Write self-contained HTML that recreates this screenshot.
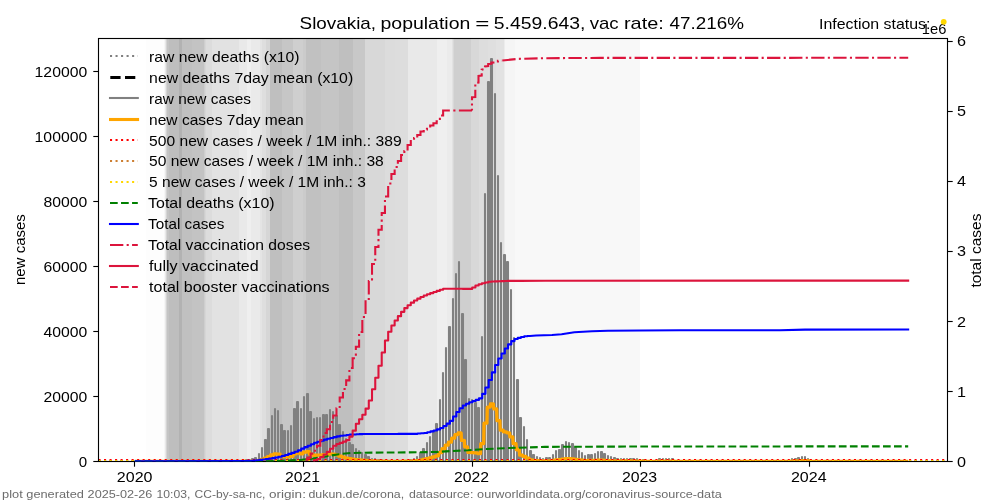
<!DOCTYPE html>
<html><head><meta charset="utf-8"><title>Slovakia</title>
<style>html,body{margin:0;padding:0;background:#fff;}body{width:1000px;height:500px;overflow:hidden;font-family:"Liberation Sans",sans-serif;}svg{display:block;will-change:transform;}</style>
</head><body>
<svg width="1000" height="500" viewBox="0 0 1000 500">
<defs><clipPath id="ax"><rect x="98.50" y="38.50" width="849.00" height="423.00"/></clipPath></defs>
<rect width="1000" height="500" fill="#fff"/>
<g clip-path="url(#ax)">
<g shape-rendering="crispEdges">
<rect x="146.0" y="38.5" width="17.6" height="423.0" fill="#fdfdfd"/>
<rect x="163.6" y="38.5" width="1.4" height="423.0" fill="#f6f6f6"/>
<rect x="165.0" y="38.5" width="1.0" height="423.0" fill="#e8e8e8"/>
<rect x="166.0" y="38.5" width="1.2" height="423.0" fill="#d4d4d4"/>
<rect x="167.2" y="38.5" width="1.6" height="423.0" fill="#c4c4c4"/>
<rect x="168.8" y="38.5" width="10.2" height="423.0" fill="#bebebe"/>
<rect x="179.0" y="38.5" width="2.6" height="423.0" fill="#b2b2b2"/>
<rect x="181.6" y="38.5" width="10.0" height="423.0" fill="#c0c0c0"/>
<rect x="191.6" y="38.5" width="12.8" height="423.0" fill="#c3c3c3"/>
<rect x="204.4" y="38.5" width="1.0" height="423.0" fill="#cecece"/>
<rect x="205.4" y="38.5" width="1.0" height="423.0" fill="#d6d6d6"/>
<rect x="206.4" y="38.5" width="6.0" height="423.0" fill="#dcdcdc"/>
<rect x="212.4" y="38.5" width="26.4" height="423.0" fill="#e2e2e2"/>
<rect x="238.8" y="38.5" width="8.4" height="423.0" fill="#e9e9e9"/>
<rect x="247.2" y="38.5" width="3.6" height="423.0" fill="#efefef"/>
<rect x="250.8" y="38.5" width="9.2" height="423.0" fill="#eaeaea"/>
<rect x="260.0" y="38.5" width="1.6" height="423.0" fill="#e4e4e4"/>
<rect x="261.6" y="38.5" width="4.8" height="423.0" fill="#dedede"/>
<rect x="266.4" y="38.5" width="3.6" height="423.0" fill="#d6d6d6"/>
<rect x="270.0" y="38.5" width="11.6" height="423.0" fill="#bfbfbf"/>
<rect x="281.6" y="38.5" width="11.2" height="423.0" fill="#c6c6c6"/>
<rect x="292.8" y="38.5" width="10.4" height="423.0" fill="#cfcfcf"/>
<rect x="303.2" y="38.5" width="2.8" height="423.0" fill="#cbcbcb"/>
<rect x="306.0" y="38.5" width="14.8" height="423.0" fill="#c1c1c1"/>
<rect x="320.8" y="38.5" width="18.0" height="423.0" fill="#c5c5c5"/>
<rect x="338.8" y="38.5" width="14.0" height="423.0" fill="#bfbfbf"/>
<rect x="352.8" y="38.5" width="12.0" height="423.0" fill="#c8c8c8"/>
<rect x="364.8" y="38.5" width="20.0" height="423.0" fill="#d8d8d8"/>
<rect x="384.8" y="38.5" width="10.4" height="423.0" fill="#dcdcdc"/>
<rect x="395.2" y="38.5" width="12.4" height="423.0" fill="#dddddd"/>
<rect x="407.6" y="38.5" width="29.6" height="423.0" fill="#e9e9e9"/>
<rect x="437.2" y="38.5" width="10.0" height="423.0" fill="#efefef"/>
<rect x="447.2" y="38.5" width="4.4" height="423.0" fill="#ebebeb"/>
<rect x="451.6" y="38.5" width="1.2" height="423.0" fill="#e2e2e2"/>
<rect x="452.8" y="38.5" width="1.2" height="423.0" fill="#d8d8d8"/>
<rect x="454.0" y="38.5" width="17.2" height="423.0" fill="#cfcfcf"/>
<rect x="471.2" y="38.5" width="7.6" height="423.0" fill="#d8d8d8"/>
<rect x="478.8" y="38.5" width="8.8" height="423.0" fill="#dddddd"/>
<rect x="487.6" y="38.5" width="8.4" height="423.0" fill="#dfdfdf"/>
<rect x="496.0" y="38.5" width="7.6" height="423.0" fill="#e2e2e2"/>
<rect x="503.6" y="38.5" width="1.6" height="423.0" fill="#ececec"/>
<rect x="505.2" y="38.5" width="10.0" height="423.0" fill="#f5f5f5"/>
<rect x="515.2" y="38.5" width="125.0" height="423.0" fill="#f8f8f8"/>
</g>
<path d="M134.80 461.50 L239.00 461.50 L239.00 461.00 L240.00 461.00 L240.00 461.50 L242.00 461.50 L242.00 461.00 L243.00 461.00 L243.00 461.50 L246.00 461.50 L246.00 460.00 L246.00 461.50 L249.00 461.50 L249.00 460.00 L249.00 461.50 L252.00 461.50 L252.00 459.00 L253.00 459.00 L253.00 461.50 L255.00 461.50 L255.00 458.00 L256.00 458.00 L256.00 461.50 L259.00 461.50 L259.00 454.00 L259.00 461.50 L262.00 461.50 L262.00 448.00 L262.00 461.50 L265.00 461.50 L265.00 440.00 L266.00 440.00 L266.00 461.50 L268.00 461.50 L268.00 429.00 L269.00 429.00 L269.00 461.50 L272.00 461.50 L272.00 416.00 L272.00 461.50 L275.00 461.50 L275.00 409.00 L275.00 461.50 L278.00 461.50 L278.00 411.00 L278.00 461.50 L281.00 461.50 L281.00 425.00 L282.00 425.00 L282.00 461.50 L284.00 461.50 L284.00 431.00 L285.00 431.00 L285.00 461.50 L288.00 461.50 L288.00 431.00 L288.00 461.50 L291.00 461.50 L291.00 426.00 L291.00 461.50 L294.00 461.50 L294.00 409.00 L295.00 409.00 L295.00 461.50 L297.00 461.50 L297.00 402.00 L298.00 402.00 L298.00 461.50 L301.00 461.50 L301.00 409.00 L301.00 461.50 L304.00 461.50 L304.00 397.00 L304.00 461.50 L307.00 461.50 L307.00 394.00 L308.00 394.00 L308.00 461.50 L310.00 461.50 L310.00 412.00 L311.00 412.00 L311.00 461.50 L314.00 461.50 L314.00 419.00 L314.00 461.50 L317.00 461.50 L317.00 418.00 L317.00 461.50 L320.00 461.50 L320.00 418.00 L320.00 461.50 L323.00 461.50 L323.00 415.00 L324.00 415.00 L324.00 461.50 L326.00 461.50 L326.00 415.00 L327.00 415.00 L327.00 461.50 L330.00 461.50 L330.00 410.00 L330.00 461.50 L333.00 461.50 L333.00 412.00 L333.00 461.50 L336.00 461.50 L336.00 416.00 L337.00 416.00 L337.00 461.50 L339.00 461.50 L339.00 425.00 L340.00 425.00 L340.00 461.50 L343.00 461.50 L343.00 432.00 L343.00 461.50 L346.00 461.50 L346.00 439.00 L346.00 461.50 L349.00 461.50 L349.00 443.00 L350.00 443.00 L350.00 461.50 L352.00 461.50 L352.00 445.00 L353.00 445.00 L353.00 461.50 L356.00 461.50 L356.00 449.00 L356.00 461.50 L359.00 461.50 L359.00 451.00 L359.00 461.50 L362.00 461.50 L362.00 453.00 L362.00 461.50 L365.00 461.50 L365.00 455.00 L366.00 455.00 L366.00 461.50 L368.00 461.50 L368.00 457.00 L369.00 457.00 L369.00 461.50 L372.00 461.50 L372.00 459.00 L372.00 461.50 L375.00 461.50 L375.00 459.00 L375.00 461.50 L378.00 461.50 L378.00 460.00 L379.00 460.00 L379.00 461.50 L381.00 461.50 L381.00 460.00 L382.00 460.00 L382.00 461.50 L385.00 461.50 L385.00 461.00 L385.00 461.50 L388.00 461.50 L388.00 461.00 L388.00 461.50 L391.00 461.50 L391.00 461.00 L392.00 461.00 L392.00 461.50 L394.00 461.50 L394.00 461.00 L395.00 461.00 L395.00 461.50 L398.00 461.50 L398.00 461.00 L398.00 461.50 L401.00 461.50 L401.00 461.00 L401.00 461.50 L404.00 461.50 L404.00 461.00 L404.00 461.50 L407.00 461.50 L407.00 461.00 L408.00 461.00 L408.00 461.50 L410.00 461.50 L410.00 460.00 L411.00 460.00 L411.00 461.50 L414.00 461.50 L414.00 459.00 L414.00 461.50 L417.00 461.50 L417.00 457.00 L417.00 461.50 L420.00 461.50 L420.00 453.00 L421.00 453.00 L421.00 461.50 L423.00 461.50 L423.00 449.00 L424.00 449.00 L424.00 461.50 L427.00 461.50 L427.00 443.00 L427.00 461.50 L430.00 461.50 L430.00 437.00 L430.00 461.50 L433.00 461.50 L433.00 431.00 L434.00 431.00 L434.00 461.50 L436.00 461.50 L436.00 424.00 L437.00 424.00 L437.00 461.50 L440.00 461.50 L440.00 400.00 L440.00 461.50 L443.00 461.50 L443.00 373.00 L443.00 461.50 L446.00 461.50 L446.00 348.00 L446.00 461.50 L449.00 461.50 L449.00 327.00 L450.00 327.00 L450.00 461.50 L453.00 461.50 L453.00 299.00 L453.00 461.50 L456.00 461.50 L456.00 274.00 L456.00 461.50 L459.00 461.50 L459.00 262.00 L459.00 461.50 L462.00 461.50 L462.00 314.00 L463.00 314.00 L463.00 461.50 L465.00 461.50 L465.00 360.00 L466.00 360.00 L466.00 461.50 L469.00 461.50 L469.00 399.00 L469.00 461.50 L472.00 461.50 L472.00 400.00 L472.00 461.50 L475.00 461.50 L475.00 403.00 L476.00 403.00 L476.00 461.50 L478.00 461.50 L478.00 408.00 L479.00 408.00 L479.00 461.50 L482.00 461.50 L482.00 337.00 L482.00 461.50 L485.00 461.50 L485.00 194.00 L485.00 461.50 L488.00 461.50 L488.00 82.00 L489.00 82.00 L489.00 461.50 L491.00 461.50 L491.00 59.00 L492.00 59.00 L492.00 461.50 L495.00 461.50 L495.00 94.00 L495.00 461.50 L498.00 461.50 L498.00 176.00 L498.00 461.50 L501.00 461.50 L501.00 243.00 L501.00 461.50 L504.00 461.50 L504.00 255.00 L505.00 255.00 L505.00 461.50 L507.00 461.50 L507.00 262.00 L508.00 262.00 L508.00 461.50 L511.00 461.50 L511.00 290.00 L511.00 461.50 L514.00 461.50 L514.00 338.00 L514.00 461.50 L517.00 461.50 L517.00 380.00 L518.00 380.00 L518.00 461.50 L520.00 461.50 L520.00 418.00 L521.00 418.00 L521.00 461.50 L524.00 461.50 L524.00 427.00 L524.00 461.50 L527.00 461.50 L527.00 440.00 L527.00 461.50 L530.00 461.50 L530.00 451.00 L531.00 451.00 L531.00 461.50 L533.00 461.50 L533.00 455.00 L534.00 455.00 L534.00 461.50 L537.00 461.50 L537.00 457.00 L537.00 461.50 L540.00 461.50 L540.00 458.00 L540.00 461.50 L543.00 461.50 L543.00 459.00 L543.00 461.50 L546.00 461.50 L546.00 458.00 L547.00 458.00 L547.00 461.50 L549.00 461.50 L549.00 458.00 L550.00 458.00 L550.00 461.50 L553.00 461.50 L553.00 455.00 L553.00 461.50 L556.00 461.50 L556.00 451.00 L556.00 461.50 L559.00 461.50 L559.00 450.00 L560.00 450.00 L560.00 461.50 L562.00 461.50 L562.00 445.00 L563.00 445.00 L563.00 461.50 L566.00 461.50 L566.00 442.00 L566.00 461.50 L569.00 461.50 L569.00 443.00 L569.00 461.50 L572.00 461.50 L572.00 444.00 L573.00 444.00 L573.00 461.50 L575.00 461.50 L575.00 448.00 L576.00 448.00 L576.00 461.50 L579.00 461.50 L579.00 451.00 L579.00 461.50 L582.00 461.50 L582.00 453.00 L582.00 461.50 L585.00 461.50 L585.00 456.00 L585.00 461.50 L588.00 461.50 L588.00 455.00 L589.00 455.00 L589.00 461.50 L591.00 461.50 L591.00 455.00 L592.00 455.00 L592.00 461.50 L595.00 461.50 L595.00 454.00 L595.00 461.50 L598.00 461.50 L598.00 452.00 L598.00 461.50 L601.00 461.50 L601.00 452.00 L602.00 452.00 L602.00 461.50 L604.00 461.50 L604.00 454.00 L605.00 454.00 L605.00 461.50 L608.00 461.50 L608.00 456.00 L608.00 461.50 L611.00 461.50 L611.00 457.00 L611.00 461.50 L614.00 461.50 L614.00 458.00 L615.00 458.00 L615.00 461.50 L617.00 461.50 L617.00 459.00 L618.00 459.00 L618.00 461.50 L621.00 461.50 L621.00 459.00 L621.00 461.50 L624.00 461.50 L624.00 459.00 L624.00 461.50 L627.00 461.50 L627.00 459.00 L627.00 461.50 L630.00 461.50 L630.00 459.00 L631.00 459.00 L631.00 461.50 L633.00 461.50 L633.00 459.00 L634.00 459.00 L634.00 461.50 L637.00 461.50 L637.00 459.00 L637.00 461.50 L640.00 461.50 L640.00 460.00 L640.00 461.50 L643.00 461.50 L643.00 460.00 L644.00 460.00 L644.00 461.50 L646.00 461.50 L646.00 461.00 L647.00 461.00 L647.00 461.50 L650.00 461.50 L650.00 461.00 L650.00 461.50 L653.00 461.50 L653.00 461.00 L653.00 461.50 L656.00 461.50 L656.00 461.00 L657.00 461.00 L657.00 461.50 L659.00 461.50 L659.00 459.00 L660.00 459.00 L660.00 461.50 L663.00 461.50 L663.00 459.00 L663.00 461.50 L666.00 461.50 L666.00 459.00 L666.00 461.50 L669.00 461.50 L669.00 459.00 L669.00 461.50 L672.00 461.50 L672.00 459.00 L673.00 459.00 L673.00 461.50 L675.00 461.50 L675.00 461.00 L676.00 461.00 L676.00 461.50 L679.00 461.50 L679.00 461.00 L679.00 461.50 L682.00 461.50 L682.00 461.00 L682.00 461.50 L685.00 461.50 L685.00 461.00 L686.00 461.00 L686.00 461.50 L688.00 461.50 L688.00 461.00 L689.00 461.00 L689.00 461.50 L692.00 461.50 L692.00 461.00 L692.00 461.50 L695.00 461.50 L695.00 461.00 L695.00 461.50 L698.00 461.50 L698.00 461.00 L699.00 461.00 L699.00 461.50 L701.00 461.50 L701.00 461.00 L702.00 461.00 L702.00 461.50 L705.00 461.50 L705.00 461.00 L705.00 461.50 L708.00 461.50 L708.00 461.00 L708.00 461.50 L711.00 461.50 L711.00 461.00 L711.00 461.50 L714.00 461.50 L714.00 461.00 L715.00 461.00 L715.00 461.50 L717.00 461.50 L717.00 461.00 L718.00 461.00 L718.00 461.50 L721.00 461.50 L721.00 461.00 L721.00 461.50 L724.00 461.50 L724.00 461.00 L724.00 461.50 L727.00 461.50 L727.00 461.00 L728.00 461.00 L728.00 461.50 L730.00 461.50 L730.00 461.00 L731.00 461.00 L731.00 461.50 L734.00 461.50 L734.00 461.00 L734.00 461.50 L737.00 461.50 L737.00 461.00 L737.00 461.50 L740.00 461.50 L740.00 461.00 L741.00 461.00 L741.00 461.50 L743.00 461.50 L743.00 461.00 L744.00 461.00 L744.00 461.50 L747.00 461.50 L747.00 461.00 L747.00 461.50 L750.00 461.50 L750.00 461.00 L750.00 461.50 L753.00 461.50 L753.00 461.00 L754.00 461.00 L754.00 461.50 L756.00 461.50 L756.00 461.00 L757.00 461.00 L757.00 461.50 L760.00 461.50 L760.00 461.00 L760.00 461.50 L763.00 461.50 L763.00 461.00 L763.00 461.50 L766.00 461.50 L766.00 461.00 L766.00 461.50 L769.00 461.50 L769.00 461.00 L770.00 461.00 L770.00 461.50 L772.00 461.50 L772.00 461.00 L773.00 461.00 L773.00 461.50 L776.00 461.50 L776.00 461.00 L776.00 461.50 L779.00 461.50 L779.00 461.00 L779.00 461.50 L782.00 461.50 L782.00 461.00 L783.00 461.00 L783.00 461.50 L785.00 461.50 L785.00 461.00 L786.00 461.00 L786.00 461.50 L789.00 461.50 L789.00 461.00 L789.00 461.50 L792.00 461.50 L792.00 459.00 L792.00 461.50 L795.00 461.50 L795.00 459.00 L796.00 459.00 L796.00 461.50 L798.00 461.50 L798.00 458.00 L799.00 458.00 L799.00 461.50 L802.00 461.50 L802.00 457.00 L802.00 461.50 L805.00 461.50 L805.00 457.00 L805.00 461.50 L808.00 461.50 L808.00 459.00 L808.00 461.50 L811.00 461.50 L811.00 461.00 L812.00 461.00 L812.00 461.50 L814.00 461.50 L814.00 461.00 L815.00 461.00 L815.00 461.50 L818.00 461.50 L818.00 461.00 L818.00 461.50 L821.00 461.50 L821.00 461.00 L821.00 461.50 L824.00 461.50 L824.00 461.00 L825.00 461.00 L825.00 461.50 L827.00 461.50 L827.00 461.00 L828.00 461.00 L828.00 461.50 L831.00 461.50 L831.00 461.00 L831.00 461.50 L834.00 461.50 L834.00 461.00 L834.00 461.50 L837.00 461.50 L837.00 461.00 L838.00 461.00 L838.00 461.50 L840.00 461.50 L840.00 461.00 L841.00 461.00 L841.00 461.50 L844.00 461.50 L844.00 461.00 L844.00 461.50 L847.00 461.50 L847.00 461.00 L847.00 461.50 L850.00 461.50 L850.00 461.00 L850.00 461.50 L853.00 461.50 L853.00 461.00 L854.00 461.00 L854.00 461.50 L856.00 461.50 L856.00 461.00 L857.00 461.00 L857.00 461.50 L860.00 461.50 L860.00 461.00 L860.00 461.50 L863.00 461.50 L863.00 461.00 L863.00 461.50 L866.00 461.50 L866.00 461.00 L867.00 461.00 L867.00 461.50 L869.00 461.50 L869.00 461.00 L870.00 461.00 L870.00 461.50 L873.00 461.50 L873.00 461.00 L873.00 461.50 L876.00 461.50 L876.00 461.00 L876.00 461.50 L879.00 461.50 L879.00 461.00 L880.00 461.00 L880.00 461.50 L882.00 461.50 L882.00 461.00 L883.00 461.00 L883.00 461.50 L886.00 461.50 L886.00 461.00 L886.00 461.50 L889.00 461.50 L889.00 461.00 L889.00 461.50 L892.00 461.50 L892.00 461.00 L892.00 461.50 L895.00 461.50 L895.00 461.00 L896.00 461.00 L896.00 461.50 L898.00 461.50 L898.00 461.00 L899.00 461.00 L899.00 461.50 L902.00 461.50 L902.00 461.00 L902.00 461.50 L905.00 461.50 L905.00 461.00 L905.00 461.50 L908.20 461.50" fill="none" stroke="#808080" stroke-width="2.08" stroke-linejoin="round"/>
<path d="M134.80 461.50 L238.45 461.31 L241.35 461.31 L241.68 461.26 L244.58 461.26 L244.91 461.17 L247.81 461.17 L248.14 461.07 L251.04 461.07 L251.37 460.97 L254.27 460.97 L254.60 460.83 L257.50 460.83 L257.84 460.29 L260.74 460.29 L261.07 459.49 L263.97 459.49 L264.30 458.27 L267.20 458.27 L267.53 456.77 L270.43 456.77 L270.76 454.89 L273.66 454.89 L273.99 453.89 L276.89 453.89 L277.23 454.17 L280.13 454.17 L280.46 456.17 L283.36 456.17 L283.69 456.97 L286.59 456.97 L286.92 456.97 L289.82 456.97 L290.15 456.24 L293.05 456.24 L293.38 453.81 L296.28 453.81 L296.62 452.87 L299.52 452.87 L299.85 453.86 L302.75 453.86 L303.08 452.11 L305.98 452.11 L306.31 451.74 L309.21 451.74 L309.54 454.34 L312.44 454.34 L312.77 455.24 L315.67 455.24 L316.00 455.14 L318.90 455.14 L319.24 455.14 L322.14 455.14 L322.47 454.71 L325.37 454.71 L325.70 454.64 L328.60 454.64 L328.93 453.93 L331.83 453.93 L332.16 454.23 L335.06 454.23 L335.39 454.83 L338.29 454.83 L338.63 456.10 L341.53 456.10 L341.86 457.14 L344.76 457.14 L345.09 458.10 L347.99 458.10 L348.32 458.71 L351.22 458.71 L351.55 459.03 L354.45 459.03 L354.78 459.57 L357.68 459.57 L358.02 459.87 L360.92 459.87 L361.25 460.17 L364.15 460.17 L364.48 460.46 L367.38 460.46 L367.71 460.73 L370.61 460.73 L370.94 460.93 L373.84 460.93 L374.17 461.01 L377.07 461.01 L377.41 461.09 L380.31 461.09 L380.64 461.17 L383.54 461.17 L383.87 461.23 L386.77 461.23 L387.10 461.29 L390.00 461.29 L390.33 461.33 L393.23 461.33 L393.56 461.34 L396.46 461.34 L396.79 461.34 L399.69 461.34 L400.03 461.31 L402.93 461.31 L403.26 461.27 L406.16 461.27 L406.49 461.21 L409.39 461.21 L409.72 461.11 L412.62 461.11 L412.95 460.97 L415.85 460.97 L416.18 460.71 L419.08 460.71 L419.42 460.20 L422.32 460.20 L422.65 459.51 L425.55 459.51 L425.88 458.76 L428.78 458.76 L429.11 457.91 L432.01 457.91 L432.34 456.96 L435.24 456.96 L435.57 455.94 L438.47 455.94 L438.81 452.54 L441.71 452.54 L442.04 448.74 L444.94 448.74 L445.27 445.20 L448.17 445.20 L448.50 442.14 L451.40 442.14 L451.73 438.14 L454.63 438.14 L454.96 434.54 L457.86 434.54 L458.20 432.81 L461.10 432.81 L461.43 440.34 L464.33 440.34 L464.66 446.86 L467.56 446.86 L467.89 452.36 L470.79 452.36 L471.12 452.57 L474.02 452.57 L474.35 452.97 L477.25 452.97 L477.58 453.66 L480.48 453.66 L480.82 443.61 L483.72 443.61 L484.05 423.13 L486.95 423.13 L487.28 407.20 L490.18 407.20 L490.51 403.83 L493.41 403.83 L493.74 408.79 L496.64 408.79 L496.97 420.63 L499.87 420.63 L500.21 430.14 L503.11 430.14 L503.44 431.83 L506.34 431.83 L506.67 432.79 L509.57 432.79 L509.90 436.83 L512.80 436.83 L513.13 443.64 L516.03 443.64 L516.36 449.74 L519.26 449.74 L519.60 455.17 L522.50 455.17 L522.83 456.40 L525.73 456.40 L526.06 458.21 L528.96 458.21 L529.29 459.79 L532.19 459.79 L532.52 460.47 L535.42 460.47 L535.75 460.77 L538.65 460.77 L538.99 460.90 L541.89 460.90 L542.22 461.00 L545.12 461.00 L545.45 460.91 L548.35 460.91 L548.68 460.83 L551.58 460.83 L551.91 460.46 L554.81 460.46 L555.14 459.91 L558.04 459.91 L558.37 459.69 L561.27 459.69 L561.61 459.03 L564.51 459.03 L564.84 458.60 L567.74 458.60 L568.07 458.71 L570.97 458.71 L571.30 458.83 L574.20 458.83 L574.53 459.43 L577.43 459.43 L577.76 459.83 L580.66 459.83 L581.00 460.14 L583.90 460.14 L584.23 460.60 L587.13 460.60 L587.46 460.49 L590.36 460.49 L590.69 460.49 L593.59 460.49 L593.92 460.29 L596.82 460.29 L597.15 460.03 L600.05 460.03 L600.39 460.06 L603.29 460.06 L603.62 460.31 L606.52 460.31 L606.85 460.57 L609.75 460.57 L610.08 460.77 L612.98 460.77 L613.31 460.89 L616.21 460.89 L616.54 460.94 L619.44 460.94 L619.78 460.99 L622.68 460.99 L623.01 461.01 L625.91 461.01 L626.24 461.00 L629.14 461.00 L629.47 461.01 L632.37 461.01 L632.70 461.03 L635.60 461.03 L635.93 461.04 L638.83 461.04 L639.16 461.09 L642.06 461.09 L642.40 461.14 L645.30 461.14 L645.63 461.29 L648.53 461.29 L648.86 461.29 L651.76 461.29 L652.09 461.29 L654.99 461.29 L655.32 461.29 L658.22 461.29 L658.55 461.06 L661.45 461.06 L661.79 461.06 L664.69 461.06 L665.02 461.06 L667.92 461.06 L668.25 461.06 L671.15 461.06 L671.48 461.06 L674.38 461.06 L674.71 461.29 L677.61 461.29 L677.94 461.29 L680.84 461.29 L681.18 461.29 L684.08 461.29 L684.41 461.29 L687.31 461.29 L687.64 461.29 L690.54 461.29 L690.87 461.29 L693.77 461.29 L694.10 461.29 L697.00 461.29 L697.33 461.29 L700.23 461.29 L700.57 461.29 L703.47 461.29 L703.80 461.29 L706.70 461.29 L707.03 461.29 L709.93 461.29 L710.26 461.29 L713.16 461.29 L713.49 461.29 L716.39 461.29 L716.72 461.29 L719.62 461.29 L719.95 461.29 L722.85 461.29 L723.19 461.29 L726.09 461.29 L726.42 461.29 L729.32 461.29 L729.65 461.29 L732.55 461.29 L732.88 461.29 L735.78 461.29 L736.11 461.29 L739.01 461.29 L739.34 461.29 L742.24 461.29 L742.58 461.29 L745.48 461.29 L745.81 461.29 L748.71 461.29 L749.04 461.29 L751.94 461.29 L752.27 461.29 L755.17 461.29 L755.50 461.29 L758.40 461.29 L758.73 461.29 L761.63 461.29 L761.97 461.29 L764.87 461.29 L765.20 461.29 L768.10 461.29 L768.43 461.29 L771.33 461.29 L771.66 461.29 L774.56 461.29 L774.89 461.29 L777.79 461.29 L778.12 461.29 L781.02 461.29 L781.36 461.29 L784.26 461.29 L784.59 461.29 L787.49 461.29 L787.82 461.29 L790.72 461.29 L791.05 461.03 L793.95 461.03 L794.28 460.97 L797.18 460.97 L797.51 460.86 L800.41 460.86 L800.74 460.74 L803.64 460.74 L803.98 460.74 L806.88 460.74 L807.21 461.00 L810.11 461.00 L810.44 461.34 L813.34 461.34 L813.67 461.34 L816.57 461.34 L816.90 461.34 L819.80 461.34 L820.13 461.34 L823.03 461.34 L823.37 461.34 L826.27 461.34 L826.60 461.34 L829.50 461.34 L829.83 461.34 L832.73 461.34 L833.06 461.34 L835.96 461.34 L836.29 461.34 L839.19 461.34 L839.52 461.34 L842.42 461.34 L842.76 461.34 L845.66 461.34 L845.99 461.34 L848.89 461.34 L849.22 461.34 L852.12 461.34 L852.45 461.34 L855.35 461.34 L855.68 461.34 L858.58 461.34 L858.91 461.34 L861.81 461.34 L862.15 461.34 L865.05 461.34 L865.38 461.34 L868.28 461.34 L868.61 461.34 L871.51 461.34 L871.84 461.34 L874.74 461.34 L875.07 461.34 L877.97 461.34 L878.30 461.34 L881.20 461.34 L881.53 461.34 L884.43 461.34 L884.77 461.34 L887.67 461.34 L888.00 461.34 L890.90 461.34 L891.23 461.34 L894.13 461.34 L894.46 461.34 L897.36 461.34 L897.69 461.34 L900.59 461.34 L900.92 461.34 L903.82 461.34 L904.16 461.34 L907.06 461.34 L908.20 461.40" fill="none" stroke="#ffa500" stroke-width="3.3" stroke-linejoin="round"/>
<path d="M98.50 460.00 H947.50" stroke="#ff0000" stroke-width="2.08" stroke-dasharray="2.08 3.434" fill="none"/>
<path d="M98.50 461.00 H947.50" stroke="#cd7f32" stroke-width="2.08" stroke-dasharray="2.08 3.434" fill="none"/>
<path d="M98.50 461.00 H947.50" stroke="#ffd700" stroke-width="2.08" stroke-dasharray="2.08 3.434" fill="none"/>
</g>
<g stroke="#000" stroke-width="1.11" fill="none">
<rect x="98.50" y="38.50" width="849.00" height="423.00"/>
<path d="M134.50 461.50 v5.2"/>
<path d="M303.50 461.50 v5.2"/>
<path d="M472.50 461.50 v5.2"/>
<path d="M640.50 461.50 v5.2"/>
<path d="M809.50 461.50 v5.2"/>
<path d="M98.50 461.50 h-5.2"/>
<path d="M98.50 396.50 h-5.2"/>
<path d="M98.50 331.50 h-5.2"/>
<path d="M98.50 266.50 h-5.2"/>
<path d="M98.50 201.50 h-5.2"/>
<path d="M98.50 136.50 h-5.2"/>
<path d="M98.50 71.50 h-5.2"/>
<path d="M947.50 461.50 h5.2"/>
<path d="M947.50 391.50 h5.2"/>
<path d="M947.50 321.50 h5.2"/>
<path d="M947.50 251.50 h5.2"/>
<path d="M947.50 181.50 h5.2"/>
<path d="M947.50 111.50 h5.2"/>
<path d="M947.50 41.50 h5.2"/>
</g>
<g clip-path="url(#ax)" fill="none" stroke-width="2.08">
<path d="M134.80 461.30 L265.00 461.20 L285.00 460.80 L301.70 459.80 L313.60 458.50 L325.50 456.40 L339.00 454.20 L351.00 453.00 L364.50 452.70 L405.00 452.40 L436.50 452.00 L452.00 451.00 L468.00 450.30 L485.00 449.10 L509.00 448.00 L545.00 446.90 L610.00 446.60 L800.00 446.40 L908.20 446.40" stroke="#008000" stroke-dasharray="7.7 3.33" stroke-dashoffset="1.2"/>
<path d="M134.80 461.30 L245.00 461.00 L246.31 461.00 L246.31 460.88 L249.54 460.88 L249.54 460.75 L252.77 460.75 L252.77 460.62 L256.00 460.62 L256.00 460.28 L259.24 460.28 L259.24 459.88 L262.47 459.88 L262.47 459.49 L265.70 459.49 L265.70 459.03 L268.93 459.03 L268.93 458.56 L272.16 458.56 L272.16 458.10 L275.39 458.10 L275.39 457.51 L278.63 457.51 L278.63 456.68 L281.86 456.68 L281.86 455.85 L285.09 455.85 L285.09 454.97 L288.32 454.97 L288.32 453.91 L291.55 453.91 L291.55 452.85 L294.78 452.85 L294.78 451.79 L298.02 451.79 L298.02 450.34 L301.25 450.34 L301.25 448.59 L304.48 448.59 L304.48 447.14 L307.71 447.14 L307.71 445.70 L310.94 445.70 L310.94 444.17 L314.17 444.17 L314.17 442.75 L317.40 442.75 L317.40 441.71 L320.64 441.71 L320.64 440.68 L323.87 440.68 L323.87 439.65 L327.10 439.65 L327.10 438.71 L330.33 438.71 L330.33 437.93 L333.56 437.93 L333.56 437.16 L336.79 437.16 L336.79 436.38 L340.03 436.38 L340.03 435.80 L343.26 435.80 L343.26 435.42 L346.49 435.42 L346.49 435.03 L349.72 435.03 L349.72 434.64 L352.95 434.64 L352.95 434.42 L356.18 434.42 L356.18 434.29 L359.42 434.29 L359.42 434.16 L362.65 434.16 L362.65 434.03 L365.88 434.03 L365.88 433.99 L369.11 433.99 L369.11 433.99 L372.34 433.99 L372.34 433.98 L375.57 433.98 L375.57 433.97 L378.81 433.97 L378.81 433.96 L382.04 433.96 L382.04 433.95 L385.27 433.95 L385.27 433.95 L388.50 433.95 L388.50 433.94 L391.73 433.94 L391.73 433.93 L394.96 433.93 L394.96 433.92 L398.19 433.92 L398.19 433.91 L401.43 433.91 L401.43 433.90 L404.66 433.90 L404.66 433.90 L407.89 433.90 L407.89 433.90 L411.12 433.90 L411.12 433.90 L414.35 433.90 L414.35 433.86 L417.58 433.86 L417.58 433.55 L420.82 433.55 L420.82 433.24 L424.05 433.24 L424.05 432.93 L427.28 432.93 L427.28 432.18 L430.51 432.18 L430.51 431.38 L433.74 431.38 L433.74 430.58 L436.97 430.58 L436.97 429.40 L440.21 429.40 L440.21 428.02 L443.44 428.02 L443.44 426.04 L446.67 426.04 L446.67 423.66 L449.90 423.66 L449.90 420.87 L453.13 420.87 L453.13 416.49 L456.36 416.49 L456.36 412.04 L459.60 412.04 L459.60 408.27 L462.83 408.27 L462.83 405.45 L466.06 405.45 L466.06 403.68 L469.29 403.68 L469.29 402.19 L472.52 402.19 L472.52 400.95 L475.75 400.95 L475.75 399.88 L478.98 399.88 L478.98 398.35 L482.22 398.35 L482.22 393.85 L485.45 393.85 L485.45 387.48 L488.68 387.48 L488.68 379.94 L491.91 379.94 L491.91 372.40 L495.14 372.40 L495.14 364.98 L498.37 364.98 L498.37 358.51 L501.61 358.51 L501.61 353.49 L504.84 353.49 L504.84 348.50 L508.07 348.50 L508.07 344.39 L511.30 344.39 L511.30 341.09 L514.53 341.09 L514.53 338.95 L517.76 338.95 L517.76 337.87 L521.00 337.87 L521.00 337.05 L524.23 337.05 L524.23 336.24 L527.46 336.24 L527.46 335.93 L530.00 335.93 L536.00 335.50 L552.00 335.00 L561.60 334.20 L574.40 332.30 L592.00 331.30 L608.00 330.70 L640.00 330.50 L680.00 330.20 L780.00 330.20 L805.00 329.60 L908.20 329.50 L909.20 329.50" stroke="#0000ff" stroke-linejoin="round"/>
<path d="M304.00 459.60 L307.39 459.60 L307.39 457.60 L310.62 457.60 L310.62 453.60 L313.85 453.60 L313.85 450.70 L317.08 450.70 L317.08 445.80 L320.31 445.80 L320.31 440.00 L323.55 440.00 L323.55 433.00 L326.78 433.00 L326.78 429.30 L330.01 429.30 L330.01 422.00 L333.24 422.00 L333.24 415.50 L336.47 415.50 L336.47 408.30 L339.70 408.30 L339.70 397.50 L342.94 397.50 L342.94 389.00 L346.17 389.00 L346.17 380.40 L349.40 380.40 L349.40 368.00 L352.63 368.00 L352.63 358.20 L355.86 358.20 L355.86 346.80 L359.09 346.80 L359.09 332.00 L362.33 332.00 L362.33 317.00 L365.56 317.00 L365.56 299.00 L368.79 299.00 L368.79 281.00 L372.02 281.00 L372.02 264.00 L375.25 264.00 L375.25 247.00 L378.48 247.00 L378.48 229.80 L381.72 229.80 L381.72 213.00 L384.95 213.00 L384.95 196.50 L388.18 196.50 L388.18 183.50 L391.41 183.50 L391.41 174.00 L394.64 174.00 L394.64 167.00 L397.87 167.00 L397.87 161.00 L401.10 161.00 L401.10 155.00 L404.34 155.00 L404.34 151.00 L407.57 151.00 L407.57 145.00 L410.80 145.00 L410.80 141.00 L414.03 141.00 L414.03 138.00 L417.26 138.00 L417.26 135.00 L420.49 135.00 L420.49 131.50 L423.73 131.50 L423.73 129.50 L426.96 129.50 L426.96 127.50 L430.19 127.50 L430.19 125.50 L433.42 125.50 L433.42 123.20 L436.65 123.20 L436.65 121.30 L439.88 121.30 L439.88 115.50 L443.12 115.50 L443.12 110.50 L472.00 110.50" stroke="#dc143c" stroke-dasharray="13.79 3.45 2.15 3.45" stroke-dashoffset="21.33"/>
<path d="M472.00 110.50 L472.00 97.30 L475.30 97.00 L475.30 83.00 L478.50 82.50 L478.50 76.00 L481.70 75.50 L481.70 69.70 L485.00 69.00 L485.00 66.50 L488.20 66.00 L488.20 64.00 L491.40 63.80 L491.40 62.60 L494.70 62.40 L494.70 61.50 L497.90 61.40 L497.90 60.80 L501.80 60.60" stroke="#dc143c" stroke-dasharray="13.33 3.33 2.08 3.33" stroke-dashoffset="11.70"/>
<path d="M502.30 60.55 L505.00 60.20 L517.50 58.90 L542.70 58.20 L600.00 57.90 L908.20 57.80" stroke="#dc143c" stroke-dasharray="13.33 3.33 2.08 3.33"/>
<path d="M313.50 461.30 L313.85 461.30 L313.85 460.18 L317.08 460.18 L317.08 458.95 L320.31 458.95 L320.31 457.01 L323.55 457.01 L323.55 454.48 L326.78 454.48 L326.78 451.90 L330.01 451.90 L330.01 448.79 L333.24 448.79 L333.24 445.68 L336.47 445.68 L336.47 444.06 L339.70 444.06 L339.70 442.90 L342.94 442.90 L342.94 441.63 L346.17 441.63 L346.17 440.13 L349.40 440.13 L349.40 436.62 L352.63 436.62 L352.63 430.63 L355.86 430.63 L355.86 423.80 L359.09 423.80 L359.09 419.31 L362.33 419.31 L362.33 414.83 L365.56 414.83 L365.56 408.61 L368.79 408.61 L368.79 400.53 L372.02 400.53 L372.02 389.30 L375.25 389.30 L375.25 377.80 L378.48 377.80 L378.48 365.69 L381.72 365.69 L381.72 352.44 L384.95 352.44 L384.95 340.53 L388.18 340.53 L388.18 331.80 L391.41 331.80 L391.41 325.46 L394.64 325.46 L394.64 320.49 L397.87 320.49 L397.87 316.16 L401.10 316.16 L401.10 311.87 L404.34 311.87 L404.34 308.09 L407.57 308.09 L407.57 305.21 L410.80 305.21 L410.80 302.65 L414.03 302.65 L414.03 300.45 L417.26 300.45 L417.26 298.66 L420.49 298.66 L420.49 297.00 L423.73 297.00 L423.73 295.49 L426.96 295.49 L426.96 294.23 L430.19 294.23 L430.19 293.12 L433.42 293.12 L433.42 292.01 L436.65 292.01 L436.65 290.89 L439.88 290.89 L439.88 289.74 L443.12 289.74 L443.12 288.70 L446.35 288.70 L446.35 288.73 L449.58 288.73 L449.58 288.75 L452.81 288.75 L452.81 288.77 L456.04 288.77 L456.04 288.80 L459.27 288.80 L459.27 288.82 L462.51 288.82 L462.51 288.84 L465.74 288.84 L465.74 288.87 L468.97 288.87 L468.97 288.89 L472.20 288.89 L472.20 287.45 L475.43 287.45 L475.43 285.55 L478.66 285.55 L478.66 284.25 L481.89 284.25 L481.89 283.17 L485.13 283.17 L485.13 282.47 L488.36 282.47 L488.36 281.78 L491.59 281.78 L491.59 281.50 L494.82 281.50 L494.82 281.37 L498.05 281.37 L498.05 281.23 L501.28 281.23 L501.28 281.10 L504.52 281.10 L504.52 280.96 L507.75 280.96 L507.75 280.89 L510.98 280.89 L510.98 280.87 L514.21 280.87 L514.21 280.86 L517.44 280.86 L517.44 280.84 L520.00 280.84 L545.00 280.70 L909.20 280.60" stroke="#dc143c" stroke-linejoin="round"/>
</g>
<g font-family="Liberation Sans, sans-serif">
<text x="299.60" y="28.90" font-size="17.00" text-anchor="start" fill="#000" textLength="76.5" lengthAdjust="spacingAndGlyphs" >Slovakia,</text>
<text x="380.50" y="28.90" font-size="17.00" text-anchor="start" fill="#000" textLength="89.8" lengthAdjust="spacingAndGlyphs" >population</text>
<text x="475.20" y="28.90" font-size="17.00" text-anchor="start" fill="#000" textLength="14.1" lengthAdjust="spacingAndGlyphs" >=</text>
<text x="493.80" y="28.90" font-size="17.00" text-anchor="start" fill="#000" textLength="91.6" lengthAdjust="spacingAndGlyphs" >5.459.643,</text>
<text x="589.70" y="28.90" font-size="17.00" text-anchor="start" fill="#000" textLength="29.0" lengthAdjust="spacingAndGlyphs" >vac</text>
<text x="624.00" y="28.90" font-size="17.00" text-anchor="start" fill="#000" textLength="39.8" lengthAdjust="spacingAndGlyphs" >rate:</text>
<text x="669.50" y="28.90" font-size="17.00" text-anchor="start" fill="#000" textLength="74.4" lengthAdjust="spacingAndGlyphs" >47.216%</text>
<text x="819.00" y="28.90" font-size="14.30" text-anchor="start" fill="#000" textLength="111.5" lengthAdjust="spacingAndGlyphs" >Infection status:</text>
<text x="921.80" y="33.80" font-size="14.30" text-anchor="start" fill="#000" textLength="24.5" lengthAdjust="spacingAndGlyphs" >1e6</text>
<text x="78.77" y="466.90" font-size="14.30" text-anchor="start" fill="#000" textLength="8.4" lengthAdjust="spacingAndGlyphs" >0</text>
<text x="43.45" y="401.90" font-size="14.30" text-anchor="start" fill="#000" textLength="43.8" lengthAdjust="spacingAndGlyphs" >20000</text>
<text x="43.45" y="336.90" font-size="14.30" text-anchor="start" fill="#000" textLength="43.8" lengthAdjust="spacingAndGlyphs" >40000</text>
<text x="43.45" y="271.90" font-size="14.30" text-anchor="start" fill="#000" textLength="43.8" lengthAdjust="spacingAndGlyphs" >60000</text>
<text x="43.45" y="206.90" font-size="14.30" text-anchor="start" fill="#000" textLength="43.8" lengthAdjust="spacingAndGlyphs" >80000</text>
<text x="34.62" y="141.90" font-size="14.30" text-anchor="start" fill="#000" textLength="52.6" lengthAdjust="spacingAndGlyphs" >100000</text>
<text x="34.62" y="76.90" font-size="14.30" text-anchor="start" fill="#000" textLength="52.6" lengthAdjust="spacingAndGlyphs" >120000</text>
<text x="957.00" y="466.90" font-size="14.30" text-anchor="start" fill="#000" textLength="9.0" lengthAdjust="spacingAndGlyphs" >0</text>
<text x="957.00" y="396.90" font-size="14.30" text-anchor="start" fill="#000" textLength="9.0" lengthAdjust="spacingAndGlyphs" >1</text>
<text x="957.00" y="326.90" font-size="14.30" text-anchor="start" fill="#000" textLength="9.0" lengthAdjust="spacingAndGlyphs" >2</text>
<text x="957.00" y="255.90" font-size="14.30" text-anchor="start" fill="#000" textLength="9.0" lengthAdjust="spacingAndGlyphs" >3</text>
<text x="957.00" y="185.90" font-size="14.30" text-anchor="start" fill="#000" textLength="9.0" lengthAdjust="spacingAndGlyphs" >4</text>
<text x="957.00" y="115.90" font-size="14.30" text-anchor="start" fill="#000" textLength="9.0" lengthAdjust="spacingAndGlyphs" >5</text>
<text x="957.00" y="45.90" font-size="14.30" text-anchor="start" fill="#000" textLength="9.0" lengthAdjust="spacingAndGlyphs" >6</text>
<text x="116.80" y="481.90" font-size="14.30" text-anchor="start" fill="#000" textLength="35.7" lengthAdjust="spacingAndGlyphs" >2020</text>
<text x="284.90" y="481.90" font-size="14.30" text-anchor="start" fill="#000" textLength="35.0" lengthAdjust="spacingAndGlyphs" >2021</text>
<text x="453.90" y="481.90" font-size="14.30" text-anchor="start" fill="#000" textLength="35.0" lengthAdjust="spacingAndGlyphs" >2022</text>
<text x="621.90" y="481.90" font-size="14.30" text-anchor="start" fill="#000" textLength="35.3" lengthAdjust="spacingAndGlyphs" >2023</text>
<text x="790.90" y="481.90" font-size="14.30" text-anchor="start" fill="#000" textLength="35.7" lengthAdjust="spacingAndGlyphs" >2024</text>
<text transform="translate(25.0 249.6) rotate(-90)" font-size="14.3" text-anchor="middle" textLength="71.0" lengthAdjust="spacingAndGlyphs">new cases</text>
<text transform="translate(980.7 250.6) rotate(-90)" font-size="14.3" text-anchor="middle" textLength="74.0" lengthAdjust="spacingAndGlyphs">total cases</text>
<text x="2.10" y="497.60" font-size="11.40" text-anchor="start" fill="#6c6c6c" textLength="81.8" lengthAdjust="spacingAndGlyphs" >plot generated</text>
<text x="87.60" y="497.60" font-size="11.40" text-anchor="start" fill="#6c6c6c" textLength="64.8" lengthAdjust="spacingAndGlyphs" >2025-02-26</text>
<text x="156.60" y="497.60" font-size="11.40" text-anchor="start" fill="#6c6c6c" textLength="33.8" lengthAdjust="spacingAndGlyphs" >10:03,</text>
<text x="194.60" y="497.60" font-size="11.40" text-anchor="start" fill="#6c6c6c" textLength="70.8" lengthAdjust="spacingAndGlyphs" >CC-by-sa-nc,</text>
<text x="269.10" y="497.60" font-size="11.40" text-anchor="start" fill="#6c6c6c" textLength="36.8" lengthAdjust="spacingAndGlyphs" >origin:</text>
<text x="308.40" y="497.60" font-size="11.40" text-anchor="start" fill="#6c6c6c" textLength="95.8" lengthAdjust="spacingAndGlyphs" >dukun.de/corona,</text>
<text x="408.90" y="497.60" font-size="11.40" text-anchor="start" fill="#6c6c6c" textLength="64.5" lengthAdjust="spacingAndGlyphs" >datasource:</text>
<text x="477.10" y="497.60" font-size="11.40" text-anchor="start" fill="#6c6c6c" textLength="244.6" lengthAdjust="spacingAndGlyphs" >ourworldindata.org/coronavirus-source-data</text>
<text x="149.10" y="61.90" font-size="14.30" text-anchor="start" fill="#000" textLength="150.4" lengthAdjust="spacingAndGlyphs" >raw new deaths (x10)</text>
<text x="149.10" y="82.81" font-size="14.30" text-anchor="start" fill="#000" textLength="204.1" lengthAdjust="spacingAndGlyphs" >new deaths 7day mean (x10)</text>
<text x="149.10" y="103.72" font-size="14.30" text-anchor="start" fill="#000" textLength="101.9" lengthAdjust="spacingAndGlyphs" >raw new cases</text>
<text x="149.10" y="124.63" font-size="14.30" text-anchor="start" fill="#000" textLength="154.6" lengthAdjust="spacingAndGlyphs" >new cases 7day mean</text>
<text x="149.10" y="145.54" font-size="14.30" text-anchor="start" fill="#000" textLength="252.5" lengthAdjust="spacingAndGlyphs" >500 new cases / week / 1M inh.: 389</text>
<text x="149.10" y="166.45" font-size="14.30" text-anchor="start" fill="#000" textLength="234.7" lengthAdjust="spacingAndGlyphs" >50 new cases / week / 1M inh.: 38</text>
<text x="149.10" y="187.36" font-size="14.30" text-anchor="start" fill="#000" textLength="216.7" lengthAdjust="spacingAndGlyphs" >5 new cases / week / 1M inh.: 3</text>
<text x="148.10" y="208.27" font-size="14.30" text-anchor="start" fill="#000" textLength="126.5" lengthAdjust="spacingAndGlyphs" >Total deaths (x10)</text>
<text x="148.10" y="229.18" font-size="14.30" text-anchor="start" fill="#000" textLength="76.4" lengthAdjust="spacingAndGlyphs" >Total cases</text>
<text x="148.10" y="250.09" font-size="14.30" text-anchor="start" fill="#000" textLength="162.1" lengthAdjust="spacingAndGlyphs" >Total vaccination doses</text>
<text x="149.10" y="271.00" font-size="14.30" text-anchor="start" fill="#000" textLength="109.6" lengthAdjust="spacingAndGlyphs" >fully vaccinated</text>
<text x="149.10" y="291.91" font-size="14.30" text-anchor="start" fill="#000" textLength="180.5" lengthAdjust="spacingAndGlyphs" >total booster vaccinations</text>
</g>
<g fill="none" stroke-width="2.08">
<path d="M110.00 56.00 H137.80" stroke="#808080" stroke-dasharray="2.08 3.44"/>
<path d="M110.30 77.50 H137.80" stroke="#000" stroke-width="2.78" stroke-dasharray="10.28 4.44"/>
<path d="M108.96 98.00 H138.84" stroke="#808080"/>
<path d="M109.00 119.50 H139.10" stroke="#ffa500" stroke-width="3.1"/>
<path d="M110.00 140.00 H137.80" stroke="#ff0000" stroke-dasharray="2.08 3.44"/>
<path d="M110.00 161.00 H137.80" stroke="#cd7f32" stroke-dasharray="2.08 3.44"/>
<path d="M110.00 182.00 H137.80" stroke="#ffd700" stroke-dasharray="2.08 3.44"/>
<path d="M110.00 203.00 H137.80" stroke="#008000" stroke-dasharray="7.7 3.33"/>
<path d="M108.96 224.00 H138.84" stroke="#0000ff"/>
<path d="M110.00 245.00 H137.80" stroke="#dc143c" stroke-dasharray="13.33 3.33 2.08 3.33"/>
<path d="M108.96 266.00 H138.84" stroke="#dc143c"/>
<path d="M110.00 287.00 H137.80" stroke="#dc143c" stroke-dasharray="7.7 3.33"/>
</g>
<circle cx="943.7" cy="21.8" r="2.9" fill="#ffd700"/>
</svg>
</body></html>
